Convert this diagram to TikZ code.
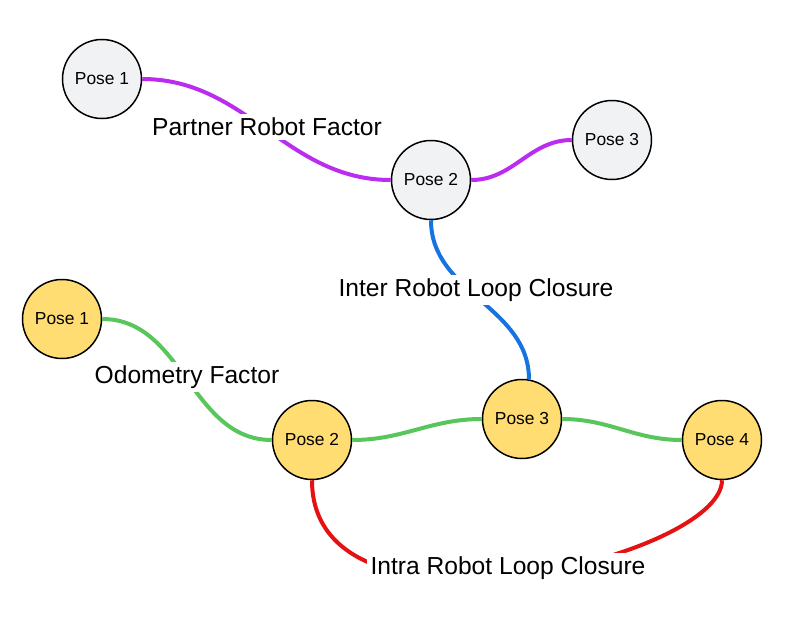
\documentclass[tikz,border=0pt]{standalone}
\usepackage{fontspec}
\setmainfont{Liberation Sans}
\usepackage{xcolor}
\usepackage{tikz}

\definecolor{partnergray}{RGB}{241,242,244}
\definecolor{ownyellow}{RGB}{255,221,115}
\definecolor{partnerpurple}{RGB}{188,44,240}
\definecolor{interblue}{RGB}{22,116,226}
\definecolor{odomgreen}{RGB}{88,198,90}
\definecolor{intrared}{RGB}{228,18,18}

\tikzset{
    pose/.style={circle, draw=black, line width=1.5pt, minimum size=79pt, inner sep=0pt,
        font=\fontsize{17.4}{20}\selectfont},
    partnerpose/.style={pose, fill=partnergray},
    ownpose/.style={pose, fill=ownyellow},
    factor/.style={line width=4pt},
    edgelabel/.style={fill=white, inner sep=4pt, font=\fontsize{24.6}{28}\selectfont},
}

\begin{document}
\begin{tikzpicture}[x=1pt,y=1pt]
    \useasboundingbox (0,-621) rectangle (804,0);

    % partner robot
    \node[partnerpose] (pa1) at (102,-79) {Pose 1};
    \node[partnerpose] (pa2) at (431,-180) {Pose 2};
    \node[partnerpose] (pa3) at (612,-140) {Pose 3};

    % own robot
    \node[ownpose] (ow1) at (62,-319) {Pose 1};
    \node[ownpose] (ow2) at (312,-440) {Pose 2};
    \node[ownpose] (ow3) at (522,-419) {Pose 3};
    \node[ownpose] (ow4) at (722,-440) {Pose 4};

    \draw[factor, partnerpurple] (pa1.east) to[out=0, in=180] (pa2.west);
    \draw[factor, partnerpurple] (pa2.east) to[out=0, in=180] (pa3.west);

    \draw[factor, interblue] (pa2.south) to[out=-90, in=90] (ow3.80);

    \draw[factor, odomgreen] (ow1.east) to[out=0, in=180] (ow2.west);
    \draw[factor, odomgreen] (ow2.east) to[out=0, in=180] (ow3.west);
    \draw[factor, odomgreen] (ow3.east) to[out=0, in=180] (ow4.west);

    \draw[factor, intrared] (ow2.south) to[out=-90, in=-90, out looseness=1.1, in looseness=0.49] (ow4.south);

    \node[edgelabel] (partnerlbl) at (267,-127) {Partner Robot Factor};
    \node[edgelabel] (interlbl) at (476,-290) {Inter Robot Loop Closure};
    \node[edgelabel] (odomlbl) at (187,-377) {Odometry Factor};
    \node[edgelabel] (intralbl) at (508,-568) {Intra Robot Loop Closure};
\end{tikzpicture}
\end{document}
